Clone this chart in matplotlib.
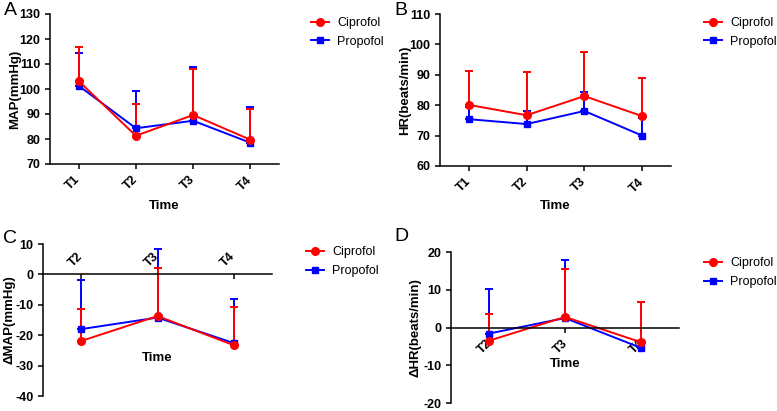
import matplotlib
matplotlib.use("Agg")
import matplotlib.pyplot as plt
from matplotlib.lines import Line2D
from matplotlib.transforms import ScaledTranslation
import numpy as np

plt.rcParams['font.family'] = ['Liberation Sans', 'DejaVu Sans']
plt.rcParams['axes.unicode_minus'] = False

# ---- data ----
cats_ab = ['T1', 'T2', 'T3', 'T4']
cats_cd = ['T2', 'T3', 'T4']

map_cip = [103.2, 81.3, 89.6, 79.7]
map_cip_top = [116.7, 94.0, 108.0, 92.1]
map_pro = [101.3, 84.3, 87.3, 78.5]
map_pro_top = [114.4, 99.2, 108.9, 92.7]

hr_cip = [80.1, 76.7, 83.0, 76.4]
hr_cip_top = [91.4, 90.8, 97.4, 88.9]
hr_pro = [75.4, 73.8, 78.1, 70.0]
hr_pro_top = [79.5, 78.2, 84.5, 75.7]

dmap_cip = [-21.9, -13.7, -23.3]
dmap_cip_top = [-11.5, 2.1, -10.7]
dmap_pro = [-18.0, -14.2, -22.6]
dmap_pro_top = [-1.8, 8.4, -8.1]

dhr_cip = [-3.5, 2.8, -3.9]
dhr_cip_top = [3.5, 15.4, 6.8]
dhr_pro = [-1.6, 2.5, -5.4]
dhr_pro_top = [10.2, 17.9, -4.0]

series_names = ['Ciprofol', 'Propofol']
RED = '#ff0000'
BLUE = '#0000ff'

W, H = 777, 411
fig = plt.figure(figsize=(W / 100, H / 100), dpi=100)


def px_axes(l, r, t, b):
    return fig.add_axes([l / W, 1 - b / H, (r - l) / W, (b - t) / H])


TICK_FS = 9
LAB_FS = 9.5


def draw(ax, cats, cip, cip_top, pro, pro_top):
    x = np.arange(len(cats))
    for vals, tops, col, mk, ms, name in [
        (pro, pro_top, BLUE, 's', 5.0, series_names[1]),
        (cip, cip_top, RED, 'o', 5.5, series_names[0]),
    ]:
        vals = np.array(vals)
        up = np.array(tops) - vals
        ax.errorbar(x, vals, yerr=[np.zeros_like(up), up], color=col,
                    marker=mk, ms=ms, lw=1.4, elinewidth=1.4, capsize=2.8,
                    capthick=1.4)
    ax.set_xticks(x)
    ax.set_xlim(-0.5, len(cats) - 0.5)
    ax.spines['right'].set_visible(False)
    for s in ax.spines.values():
        s.set_linewidth(1.1)
    ax.tick_params(width=1.1, length=3.5, labelsize=TICK_FS)
    for lab in ax.get_yticklabels():
        lab.set_fontweight('bold')


def shift_xlabels(ax, dx_px, dy_px=0):
    off = ScaledTranslation(dx_px / 100, dy_px / 100, fig.dpi_scale_trans)
    for lab in ax.get_xticklabels():
        lab.set_transform(lab.get_transform() + off)


def legend(ax, xpx, ypx):
    handles = [
        Line2D([], [], color=RED, marker='o', ms=5.5, lw=1.4),
        Line2D([], [], color=BLUE, marker='s', ms=5.0, lw=1.4),
    ]
    ax.legend(handles, series_names,
              loc='upper left', bbox_to_anchor=(xpx / W, 1 - ypx / H),
              bbox_transform=fig.transFigure, frameon=False, fontsize=9,
              borderpad=0, borderaxespad=0, handlelength=1.4,
              handletextpad=0.7, labelspacing=0.55)


def ylab(ax, text, xfrac):
    ax.set_ylabel(text, fontweight='bold', fontsize=LAB_FS, va='center')
    ax.yaxis.set_label_coords(xfrac, 0.5)


# ---- A ----
axA = px_axes(50, 279, 14, 164)
draw(axA, cats_ab, map_cip, map_cip_top, map_pro, map_pro_top)
axA.spines['top'].set_visible(False)
axA.set_ylim(70, 130)
axA.set_yticks(range(70, 131, 10))
axA.set_xticklabels(cats_ab, rotation=45, ha='right', va='top',
                    fontweight='bold', fontsize=TICK_FS)
shift_xlabels(axA, 4)
ylab(axA, 'MAP(mmHg)', (15 - 50) / 229)
axA.set_xlabel('Time', fontweight='bold', fontsize=LAB_FS)
axA.xaxis.set_label_coords(0.5, -0.24)
legend(axA, 311, 17)

# ---- B ----
axB = px_axes(440, 671, 14, 166)
draw(axB, cats_ab, hr_cip, hr_cip_top, hr_pro, hr_pro_top)
axB.spines['top'].set_visible(False)
axB.set_ylim(60, 110)
axB.set_yticks(range(60, 111, 10))
axB.set_xticklabels(cats_ab, rotation=45, ha='right', va='top',
                    fontweight='bold', fontsize=TICK_FS)
shift_xlabels(axB, 4)
ylab(axB, 'HR(beats/min)', (405 - 440) / 231)
axB.set_xlabel('Time', fontweight='bold', fontsize=LAB_FS)
axB.xaxis.set_label_coords(0.5, -0.225)
legend(axB, 704, 17)

# ---- C ----
axC = px_axes(43, 272, 244, 396)
draw(axC, cats_cd, dmap_cip, dmap_cip_top, dmap_pro, dmap_pro_top)
axC.set_ylim(-40, 10)
axC.set_yticks(range(-40, 11, 10))
axC.spines['bottom'].set_visible(False)
axC.spines['top'].set_position(('data', 0))
axC.xaxis.set_ticks_position('top')
axC.tick_params(axis='x', direction='in', pad=4)
axC.set_xticklabels(cats_cd, rotation=45, ha='right', va='bottom',
                    fontweight='bold', fontsize=TICK_FS)
shift_xlabels(axC, 4)
ylab(axC, 'ΔMAP(mmHg)', (10 - 43) / 229)
axC.xaxis.set_label_position('bottom')
axC.set_xlabel('Time', fontweight='bold', fontsize=LAB_FS, va='center')
axC.xaxis.set_label_coords(0.5, (396 - 358) / 152)
legend(axC, 306, 246)

# ---- D ----
axD = px_axes(451, 679, 252, 403)
draw(axD, cats_cd, dhr_cip, dhr_cip_top, dhr_pro, dhr_pro_top)
axD.set_ylim(-20, 20)
axD.set_yticks(range(-20, 21, 10))
axD.spines['top'].set_visible(False)
axD.spines['bottom'].set_position(('data', 0))
axD.set_xticklabels(cats_cd, rotation=45, ha='right', va='top',
                    fontweight='bold', fontsize=TICK_FS)
shift_xlabels(axD, 5)
ylab(axD, 'ΔHR(beats/min)', (415 - 451) / 228)
axD.set_xlabel('Time', fontweight='bold', fontsize=LAB_FS, va='center')
axD.xaxis.set_label_coords(0.5, (403 - 364) / 151)
legend(axD, 704, 257)

# ---- panel letters ----
for letter, xp, yp in [('A', 4, 2), ('B', 394, 2), ('C', 3, 230), ('D', 394, 228)]:
    fig.text(xp / W, 1 - yp / H, letter, fontsize=14, ha='left', va='top')

fig.savefig('out.png', dpi=100)
